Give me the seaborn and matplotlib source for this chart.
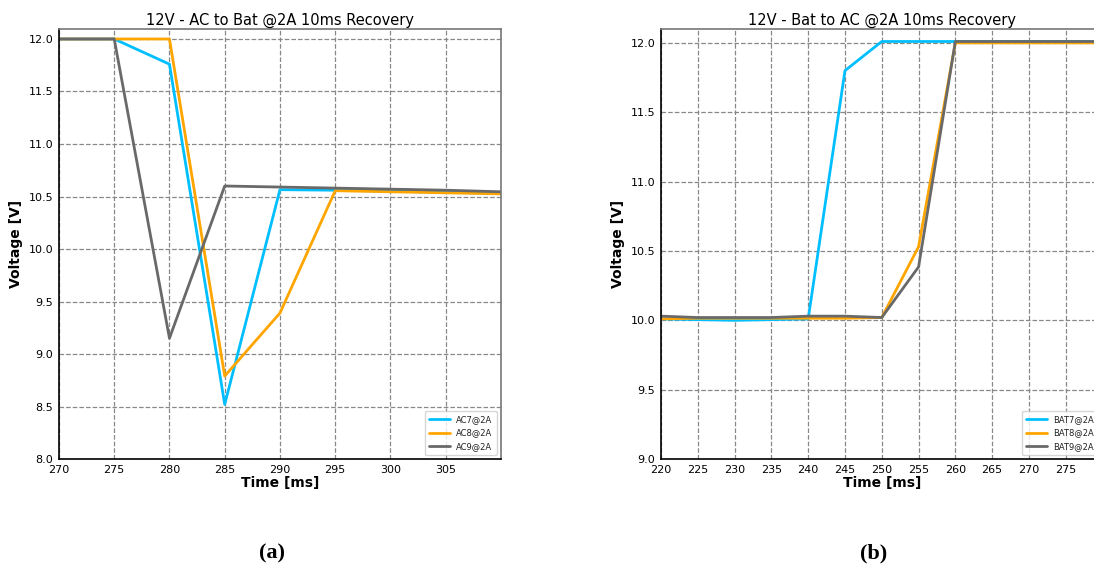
import numpy as np
import pandas as pd
import matplotlib
matplotlib.use("Agg")
import matplotlib.pyplot as plt
import seaborn as sns

# --- data: AC to Bat (panel a) ---
time_a = [270, 275, 280, 285, 290, 295, 300, 305, 310]
ac7 = [12.0, 12.0, 11.76, 8.52, 10.565, 10.56, 10.55, 10.54, 10.53]
ac8 = [12.0, 12.0, 12.0, 8.79, 9.39, 10.555, 10.545, 10.535, 10.525]
ac9 = [12.0, 12.0, 9.15, 10.60, 10.59, 10.58, 10.57, 10.56, 10.545]

# --- data: Bat to AC (panel b) ---
time_b = [220, 225, 230, 235, 240, 245, 250, 255, 260, 265, 270, 275, 280]
bat7 = [10.01, 10.005, 10.0, 10.005, 10.01, 11.80, 12.01, 12.01, 12.01, 12.01, 12.01, 12.01, 12.01]
bat8 = [10.01, 10.015, 10.015, 10.015, 10.015, 10.015, 10.02, 10.53, 12.0, 12.0, 12.0, 12.0, 12.0]
bat9 = [10.03, 10.02, 10.02, 10.02, 10.03, 10.03, 10.02, 10.385, 12.01, 12.01, 12.01, 12.01, 12.01]

colors = ["#00BFFF", "#FFA500", "#696969"]

sns.set_style("white")
plt.rcParams["font.family"] = ["DejaVu Sans"]
plt.rcParams["text.color"] = "black"
plt.rcParams["axes.labelcolor"] = "black"
plt.rcParams["xtick.color"] = "black"
plt.rcParams["ytick.color"] = "black"


def long_df(t, series):
    rows = []
    for name, vals in series.items():
        for x, y in zip(t, vals):
            rows.append({"time": x, "volt": y, "series": name})
    return pd.DataFrame(rows)


df_a = long_df(time_a, {"AC7@2A": ac7, "AC8@2A": ac8, "AC9@2A": ac9})
df_b = long_df(time_b, {"BAT7@2A": bat7, "BAT8@2A": bat8, "BAT9@2A": bat9})

fig = plt.figure(figsize=(10.94, 5.69), dpi=100)
ax1 = fig.add_axes([0.0539, 0.1933, 0.404, 0.7557])
ax2 = fig.add_axes([0.6042, 0.1933, 0.4036, 0.7557])


def style_axes(ax, df, title, xlim, ylim, xticks, yticks):
    sns.lineplot(data=df, x="time", y="volt", hue="series", palette=colors,
                 linewidth=2, ax=ax, estimator=None)
    ax.set_xlim(*xlim)
    ax.set_ylim(*ylim)
    ax.set_xticks(xticks)
    ax.set_yticks(yticks)
    ax.tick_params(labelsize=8, length=3, pad=1, colors="black")
    ax.grid(True, linestyle="--", color="#888888", linewidth=0.9)
    ax.set_title(title, fontsize=10.5, pad=3, color="black")
    ax.set_xlabel("Time [ms]", fontsize=10, fontweight="bold", labelpad=1, color="black")
    ax.set_ylabel("Voltage [V]", fontsize=10, fontweight="bold", labelpad=4, color="black")
    for side in ["top", "right"]:
        ax.spines[side].set_color("#777777")
    for side in ["left", "bottom"]:
        ax.spines[side].set_color("black")
    for s in ax.spines.values():
        s.set_linewidth(1.2)
    leg = ax.legend(loc="lower right", fontsize=6, handlelength=2.5, borderpad=0.5,
                    labelspacing=0.5, frameon=True)
    for txt in leg.get_texts():
        txt.set_color("#222222")


style_axes(ax1, df_a, "12V - AC to Bat @2A 10ms Recovery", (270, 310), (8.0, 12.095),
           np.arange(270, 310, 5), np.arange(8.0, 12.01, 0.5))
style_axes(ax2, df_b, "12V - Bat to AC @2A 10ms Recovery", (220, 280), (9.0, 12.1),
           np.arange(220, 280, 5), np.arange(9.0, 12.01, 0.5))

fig.text(0.249, 0.018, "(a)", fontsize=16, fontweight="bold", family="Liberation Serif", ha="center")
fig.text(0.799, 0.018, "(b)", fontsize=16, fontweight="bold", family="Liberation Serif", ha="center")

fig.savefig("out.png", dpi=100)
